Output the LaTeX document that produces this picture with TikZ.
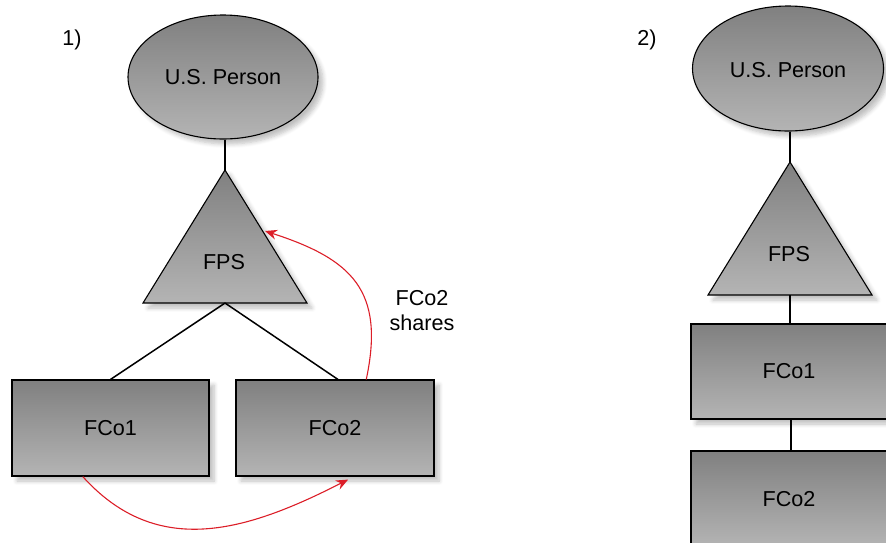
\documentclass[tikz,border=0pt]{standalone}
\usepackage{fontspec}
\setmainfont{Liberation Sans}
\usetikzlibrary{shapes.geometric,shadows.blur,arrows.meta,calc}
\tikzset{
  x=0.5pt, y=-0.5pt,
  every node/.style={font=\fontsize{10.8}{12.5}\selectfont},
  shapefill/.style={draw=black, line width=0.55pt,
    top color={rgb,255:red,128;green,128;blue,128},
    bottom color={rgb,255:red,180;green,180;blue,180},
    blur shadow={shadow xshift=2.5pt, shadow yshift=-2.5pt, shadow blur steps=6, shadow opacity=25}},
  ellnode/.style={shapefill, ellipse, inner sep=0pt},
  boxnode/.style={shapefill, rectangle, inner sep=0pt},
  link/.style={draw=black, line width=0.75pt},
  redarrow/.style={draw={rgb,255:red,220;green,30;blue,40}, line width=0.55pt,
    -{Stealth[length=6pt,width=5pt,inset=2pt]}},
}
\begin{document}
\begin{tikzpicture}
\useasboundingbox (0,0) rectangle (886,542);
\clip (0,0) rectangle (886,542);

% ---------- Part 1 ----------
\node (lab1) at (72,40) {1)};
\node[ellnode, minimum width=95pt, minimum height=62pt] (p1) at (223,77) {};
\node at (p1.center) {U.S. Person};

\coordinate (t1top) at (225,170);
\coordinate (t1bl) at (143,303);
\coordinate (t1br) at (307,303);
\coordinate (t1bot) at (225,303);
\path[shapefill] (t1top) -- (t1br) -- (t1bl) -- cycle;
\node (fps1) at (224,262) {FPS};

\node[boxnode, minimum width=98.5pt, minimum height=48pt] (a1) at (110.5,428) {FCo1};
\node[boxnode, minimum width=99pt, minimum height=48pt] (b1) at (335,428) {FCo2};

\draw[link] (t1top) -- (t1top |- p1.south);
\draw[link] (t1bot) -- (a1.north);
\draw[link] (t1bot) -- ($(b1.north west)!0.515!(b1.north east)$);

\coordinate (r1s) at ($(a1.south west)!0.36!(a1.south east)$);
\coordinate (r1e) at ($(b1.south west)!0.566!(b1.south east)+(0,3)$);
\draw[redarrow] (r1s) to[out=-48, in=207, looseness=1.08] (r1e);

\coordinate (r2s) at ($(b1.north west)!0.657!(b1.north east)$);
\coordinate (r2e) at (265,231);
\draw[redarrow] (r2s) to[out=78, in=-18, looseness=1.3] (r2e);

\node[align=center] (share) at (422,311) {FCo2\\shares};

% ---------- Part 2 ----------
\node (lab2) at (647,40) {2)};
\node[ellnode, minimum width=95.5pt, minimum height=62.5pt] (p2) at (788,68.5) {};
\node at ($(p2.center)+(0,2)$) {U.S. Person};

\coordinate (t2top) at (790,162);
\coordinate (t2bl) at (708,295);
\coordinate (t2br) at (872,295);
\coordinate (t2bot) at (790,295);
\path[shapefill] (t2top) -- (t2br) -- (t2bl) -- cycle;
\node (fps2) at (789,254) {FPS};

\node[boxnode, minimum width=98pt, minimum height=47.5pt] (a2) at (789,371.5) {FCo1};
\node[boxnode, minimum width=98pt, minimum height=48pt] (b2) at (789,499) {FCo2};

\draw[link] (t2top) -- (t2top |- p2.south);
\draw[link] (t2bot) -- (t2bot |- a2.north);
\draw[link] ($(a2.south)+(2,0)$) -- ($(b2.north)+(2,0)$);
\end{tikzpicture}
\end{document}
